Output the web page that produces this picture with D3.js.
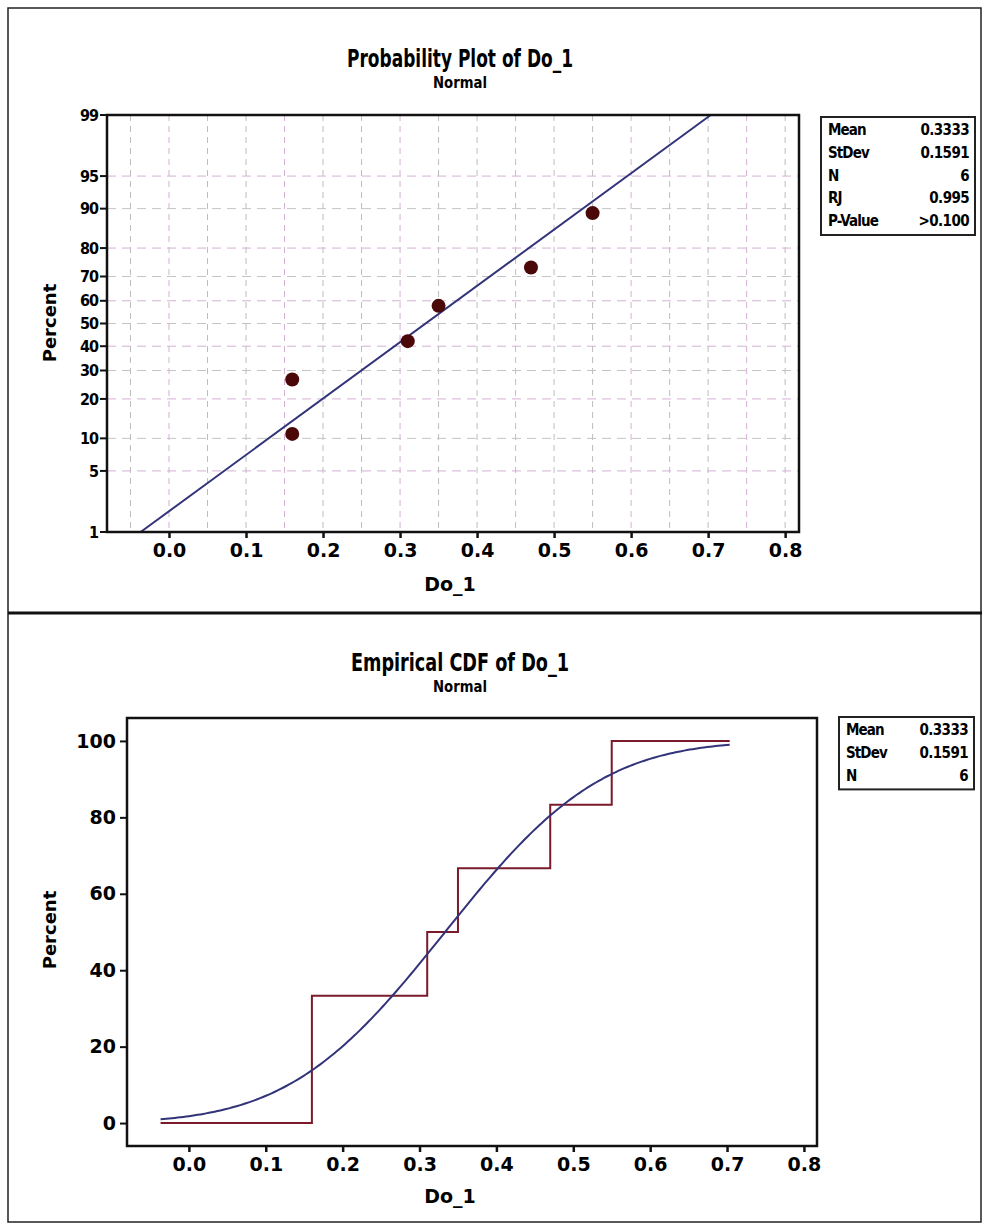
<!DOCTYPE html>
<html>
<head>
<meta charset="utf-8">
<script src="https://cdnjs.cloudflare.com/ajax/libs/d3/7.8.5/d3.min.js"></script>
<style>
  body { margin: 0; background: #fff; }
  svg { display: block; }
  .tick text { fill: #000; }
</style>
</head>
<body>
<div id="chart"></div>
<script>
// observed values of Do_1 and their plotted percents
var doValues = [0.16, 0.16, 0.31, 0.35, 0.47, 0.55];
var probPercent = [10.9, 26.6, 42.2, 57.8, 73.4, 89.1];

// empirical cdf step heights
var stepX = [0.16, 0.31, 0.35, 0.47, 0.55];
var stepY = [33.33, 50, 66.67, 83.33, 100];

var xTicks = [0.0, 0.1, 0.2, 0.3, 0.4, 0.5, 0.6, 0.7, 0.8];
var xGrid = [-0.05, 0, 0.05, 0.1, 0.15, 0.2, 0.25, 0.3, 0.35, 0.4, 0.45, 0.5, 0.55, 0.6, 0.65, 0.7, 0.75, 0.8];
var pctTicks = [1, 5, 10, 20, 30, 40, 50, 60, 70, 80, 90, 95, 99];
var cdfTicks = [0, 20, 40, 60, 80, 100];

var mean = 0.3333;
var stdev = 0.1591;

var statLabels1 = ["Mean", "StDev", "N", "RJ", "P-Value"];
var statValues1 = ["0.3333", "0.1591", "6", "0.995", ">0.100"];
var statLabels2 = ["Mean", "StDev", "N"];
var statValues2 = ["0.3333", "0.1591", "6"];

var svgWidth = 982;
var svgHeight = 1225;

var svg = d3.select("#chart")
  .append("svg")
  .attr("width", svgWidth)
  .attr("height", svgHeight);

// inverse normal (Acklam)
function qnorm(p) {
  var a = [-3.969683028665376e+01, 2.209460984245205e+02, -2.759285104469687e+02, 1.383577518672690e+02, -3.066479806614716e+01, 2.506628277459239e+00];
  var b = [-5.447609879822406e+01, 1.615858368580409e+02, -1.556989798598866e+02, 6.680131188771972e+01, -1.328068155288572e+01];
  var c = [-7.784894002430293e-03, -3.223964580411365e-01, -2.400758277161838e+00, -2.549732539343734e+00, 4.374664141464968e+00, 2.938163982698783e+00];
  var d = [7.784695709041462e-03, 3.224671290700398e-01, 2.445134137142996e+00, 3.754408661907416e+00];
  var plow = 0.02425, q, r;
  if (p < plow) {
    q = Math.sqrt(-2 * Math.log(p));
    return (((((c[0]*q+c[1])*q+c[2])*q+c[3])*q+c[4])*q+c[5]) / ((((d[0]*q+d[1])*q+d[2])*q+d[3])*q+1);
  } else if (p <= 1 - plow) {
    q = p - 0.5; r = q * q;
    return (((((a[0]*r+a[1])*r+a[2])*r+a[3])*r+a[4])*r+a[5])*q / (((((b[0]*r+b[1])*r+b[2])*r+b[3])*r+b[4])*r+1);
  } else {
    q = Math.sqrt(-2 * Math.log(1 - p));
    return -(((((c[0]*q+c[1])*q+c[2])*q+c[3])*q+c[4])*q+c[5]) / ((((d[0]*q+d[1])*q+d[2])*q+d[3])*q+1);
  }
}

function pnorm(z) {
  // Abramowitz-Stegun erf
  var t = 1 / (1 + 0.3275911 * Math.abs(z) / Math.SQRT2);
  var y = 1 - (((((1.061405429 * t - 1.453152027) * t) + 1.421413741) * t - 0.284496736) * t + 0.254829592) * t * Math.exp(-z * z / 2);
  return z >= 0 ? 0.5 * (1 + y) : 0.5 * (1 - y);
}

// outer frame
svg.append("rect")
  .attr("x", 8).attr("y", 8)
  .attr("width", 973).attr("height", 1214)
  .attr("fill", "none").attr("stroke", "#222").attr("stroke-width", 1.5);
svg.append("line")
  .attr("x1", 8).attr("x2", 982).attr("y1", 613).attr("y2", 613)
  .attr("stroke", "#111").attr("stroke-width", 3);

var titleFont = "'DejaVu Sans Condensed', sans-serif";
var axisFont = "'DejaVu Sans', Verdana, sans-serif";

function titles(t, y, len) {
  svg.append("text")
    .attr("x", 460).attr("y", y)
    .attr("text-anchor", "middle")
    .attr("font-family", titleFont).attr("font-weight", "bold")
    .attr("font-size", 24)
    .attr("textLength", len)
    .attr("lengthAdjust", "spacingAndGlyphs")
    .text(t);
  svg.append("text")
    .attr("x", 460).attr("y", y + 21)
    .attr("text-anchor", "middle")
    .attr("font-family", titleFont).attr("font-weight", "bold")
    .attr("font-size", 16)
    .attr("textLength", 54)
    .attr("lengthAdjust", "spacingAndGlyphs")
    .text("Normal");
}

function statBox(x, y, w, labels, values) {
  var rowH = 22.8;
  var g = svg.append("g").attr("transform", `translate(${x}, ${y})`);
  g.append("rect")
    .attr("width", w).attr("height", labels.length * rowH + 4)
    .attr("fill", "#fff").attr("stroke", "#222").attr("stroke-width", 2);
  labels.forEach(function(l, i) {
    g.append("text")
      .attr("x", 7).attr("y", 18 + i * rowH)
      .attr("font-family", "'DejaVu Sans Condensed', sans-serif")
      .attr("font-weight", "bold").attr("font-size", 15)
      .attr("letter-spacing", -0.9)
      .text(l);
    g.append("text")
      .attr("x", w - 6).attr("y", 18 + i * rowH)
      .attr("text-anchor", "end")
      .attr("font-family", "'DejaVu Sans Condensed', sans-serif")
      .attr("font-weight", "bold").attr("font-size", 15)
      .attr("letter-spacing", -0.6)
      .text(values[i]);
  });
}

function yLabel(x, y) {
  svg.append("text")
    .attr("transform", `translate(${x}, ${y}) rotate(-90)`)
    .attr("text-anchor", "middle")
    .attr("font-family", axisFont).attr("font-weight", "bold")
    .attr("font-size", 18)
    .text("Percent");
}

function xLabel(x, y) {
  svg.append("text")
    .attr("x", x).attr("y", y)
    .attr("text-anchor", "middle")
    .attr("font-family", axisFont).attr("font-weight", "bold")
    .attr("font-size", 19)
    .text("Do_1");
}

function styleAxis(g, size, family) {
  g.select(".domain").remove();
  g.selectAll(".tick line").attr("stroke", "#111").attr("stroke-width", 2.5);
  g.selectAll(".tick text")
    .attr("font-family", family)
    .attr("font-weight", "bold")
    .attr("font-size", size);
}

// ---------- probability plot ----------
var top1 = { left: 107, top: 115, right: 799, bottom: 532 };
var x1 = d3.scaleLinear().domain([-0.0805, 0.818]).range([top1.left, top1.right]);
var zScale = d3.scaleLinear().domain([qnorm(0.01), qnorm(0.99)]).range([top1.bottom, top1.top]);
var y1 = function(p) { return zScale(qnorm(p / 100)); };

titles("Probability Plot of Do_1", 67, 226);

var grid1 = svg.append("g");
grid1.selectAll("line.vg")
  .data(xGrid)
  .enter()
  .append("line")
  .attr("x1", d => x1(d)).attr("x2", d => x1(d))
  .attr("y1", top1.top).attr("y2", top1.bottom)
  .attr("stroke", (d, i) => i % 3 === 1 ? "#d4b0d4" : "#bdbdbd")
  .attr("stroke-width", 1)
  .attr("stroke-dasharray", "6,5");
grid1.selectAll("line.hg")
  .data(pctTicks.slice(1, -1))
  .enter()
  .append("line")
  .attr("x1", top1.left).attr("x2", top1.right)
  .attr("y1", d => y1(d)).attr("y2", d => y1(d))
  .attr("stroke", (d, i) => i % 2 === 0 ? "#d4b0d4" : "#c4c4c4")
  .attr("stroke-width", 1)
  .attr("stroke-dasharray", "9,6");

// fitted line
var pLo = 1, pHi = 99;
svg.append("line")
  .attr("x1", x1(mean + stdev * qnorm(pLo / 100))).attr("y1", y1(pLo))
  .attr("x2", x1(mean + stdev * qnorm(pHi / 100))).attr("y2", y1(pHi))
  .attr("stroke", "#33337a").attr("stroke-width", 2);

svg.selectAll("circle.pt")
  .data(doValues)
  .enter()
  .append("circle")
  .attr("cx", d => x1(d))
  .attr("cy", (d, i) => y1(probPercent[i]))
  .attr("r", 7)
  .attr("fill", "#4a0808");

svg.append("rect")
  .attr("x", top1.left).attr("y", top1.top)
  .attr("width", top1.right - top1.left).attr("height", top1.bottom - top1.top)
  .attr("fill", "none").attr("stroke", "#111").attr("stroke-width", 2.5);

var xAxis1 = svg.append("g")
  .attr("transform", `translate(0, ${top1.bottom})`)
  .call(d3.axisBottom(x1).tickValues(xTicks).tickFormat(d3.format(".1f")).tickSize(6).tickPadding(6));
styleAxis(xAxis1, 19, axisFont);

var yAxis1 = svg.append("g")
  .attr("transform", `translate(${top1.left}, 0)`);
var yt = yAxis1.selectAll("g.pt")
  .data(pctTicks)
  .enter()
  .append("g")
  .attr("transform", d => `translate(0, ${y1(d)})`);
yt.append("line").attr("x1", -7).attr("x2", 0).attr("stroke", "#111").attr("stroke-width", 2);
yt.append("text")
  .attr("x", -9).attr("dy", "0.35em")
  .attr("text-anchor", "end")
  .attr("fill", "#000")
  .attr("font-family", "'DejaVu Sans Condensed', sans-serif")
  .attr("font-weight", "bold").attr("font-size", 16)
  .attr("letter-spacing", -1)
  .text(d => d);

yLabel(56, 323);
xLabel(450, 591);
statBox(821, 117, 154, statLabels1, statValues1);

// ---------- empirical cdf ----------
var bot = { left: 127, top: 718, right: 817, bottom: 1146 };
var x2 = d3.scaleLinear().domain([-0.0805, 0.817]).range([bot.left, bot.right]);
var y2 = d3.scaleLinear().domain([-6, 106]).range([bot.bottom, bot.top]);

titles("Empirical CDF of Do_1", 671, 218);

var xStart = mean + stdev * qnorm(0.01);
var xEnd = mean + stdev * qnorm(0.99);

var stepPts = [[xStart, 0]];
var prev = 0;
stepX.forEach(function(v, i) {
  stepPts.push([v, prev]);
  stepPts.push([v, stepY[i]]);
  prev = stepY[i];
});
stepPts.push([xEnd, prev]);

var curvePts = d3.range(0, 201).map(function(i) {
  var xv = xStart + (xEnd - xStart) * i / 200;
  return [xv, 100 * pnorm((xv - mean) / stdev)];
});

var line2 = d3.line().x(d => x2(d[0])).y(d => y2(d[1]));

svg.append("path")
  .datum(stepPts)
  .attr("d", line2)
  .attr("fill", "none").attr("stroke", "#7a1a2a").attr("stroke-width", 2);

svg.append("path")
  .datum(curvePts)
  .attr("d", line2)
  .attr("fill", "none").attr("stroke", "#33337a").attr("stroke-width", 2);

svg.append("rect")
  .attr("x", bot.left).attr("y", bot.top)
  .attr("width", bot.right - bot.left).attr("height", bot.bottom - bot.top)
  .attr("fill", "none").attr("stroke", "#111").attr("stroke-width", 2.5);

var xAxis2 = svg.append("g")
  .attr("transform", `translate(0, ${bot.bottom})`)
  .call(d3.axisBottom(x2).tickValues(xTicks).tickFormat(d3.format(".1f")).tickSize(6).tickPadding(6));
styleAxis(xAxis2, 19, axisFont);

var yAxis2 = svg.append("g")
  .attr("transform", `translate(${bot.left}, 0)`)
  .call(d3.axisLeft(y2).tickValues(cdfTicks).tickSize(7).tickPadding(4));
styleAxis(yAxis2, 19, axisFont);
yAxis2.selectAll(".tick line").attr("stroke-width", 2);

yLabel(56, 930);
xLabel(450, 1203);
statBox(839, 717, 135, statLabels2, statValues2);
</script>
</body>
</html>
